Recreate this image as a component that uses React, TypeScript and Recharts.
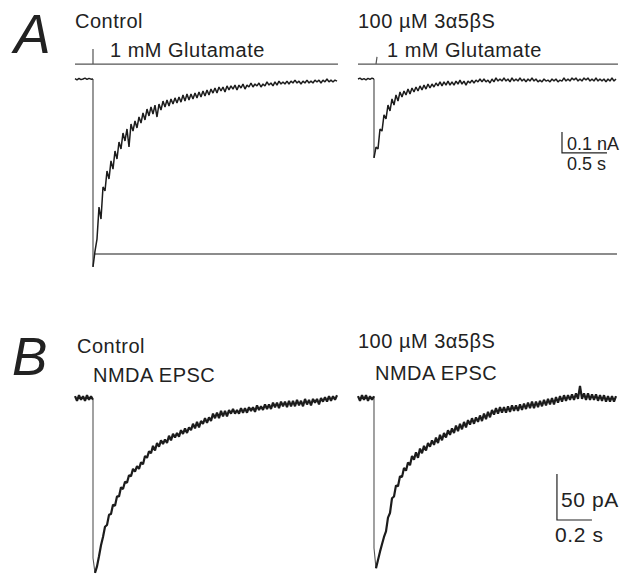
import React from 'react';
import { LineChart, Line, XAxis, YAxis } from 'recharts';

// ---------- Panel A: glutamate-evoked currents (pA), sample interval in s ----------
const dtA = 0.02222;
const startA = [0, 3.1444]; // control, 3a5bS trace start (s, figure time)
const ctrlA_base = [2, -4, 3, -3, 0, 4, -2, 3, -1, 0];
const ctrlA_resp = [
  -895, -820, -762, -610, -667, -514, -533, -438, -476, -390,
  -429, -343, -381, -300, -333, -257, -295, -238, -324, -214,
  -248, -200, -233, -181, -210, -162, -195, -143, -176, -133,
  -167, -124, -181, -119, -148, -105, -133, -100, -129, -95,
  -119, -90, -114, -86, -110, -76, -105, -71, -100, -71,
  -95, -67, -90, -62, -86, -57, -81, -52, -76, -48,
  -67, -43, -67, -38, -57, -38, -62, -33, -52, -33,
  -48, -29, -52, -29, -43, -24, -48, -29, -38, -19,
  -38, -24, -33, -19, -38, -24, -33, -14, -29, -19,
  -33, -14, -29, -10, -24, -14, -24, -10, -24, -10,
  -19, -5, -19, -10, -24, -10, -19, -5, -19, -10,
  -19, -5, -14, -5, -19, -5, -14, 0, -14, -5,
  -14, -5, -10,
];
const trtA_base = [0, 4, -3, 2, -4, 3, -2, 4, 0];
const trtA_resp = [
  -376, -324, -333, -238, -248, -171, -190, -124, -152, -95,
  -124, -76, -105, -62, -86, -57, -76, -48, -71, -43,
  -62, -38, -57, -33, -52, -29, -48, -24, -43, -24,
  -38, -19, -33, -14, -33, -14, -29, -10, -29, -14,
  -29, -10, -24, -5, -24, -10, -29, -10, -19, -5,
  -19, -5, -14, 0, -14, 0, -14, -5, -19, 0,
  -14, 5, -10, 0, -10, 5, -10, 0, -14, 5,
  -10, 0, -10, 5, -10, 0, -14, 0, -10, 5,
  -10, 0, -14, -5, -14, 0, -10, -5, -14, 0,
  -10, 0, -14, -5, -10, 5, -10, 0, -10, 5,
  -5, 5, -10, 0, -10, 5, -5, 5, -10, 0,
  -10, 5, -10, 0, -10, 0, -14, 0, -10, 5,
  -10, 0,
];
// glutamate application markers (t in s, level in pA-equivalent units)
const stimCtrlA_t = [0, 0.2, 0.2, 0.2, 2.922];
const stimCtrlA_v = [71, 71, 143, 71, 71];
const stimTrtA_t = [3.1444, 3.3444, 3.3556, 3.3444, 6.033];
const stimTrtA_v = [71, 71, 105, 71, 71];
// control peak reference level
const peakRefA_t = [0.222, 6.022];
const peakRefA_v = [-833, -833];
// scale bar: 0.1 nA, 0.5 s
const scaleA_t = [5.411, 5.411, 5.911];
const scaleA_v = [-252, -352, -352];

// ---------- Panel B: NMDA EPSCs (pA) ----------
const dtB = 0.011429;
const startB = [0, 1.6171];
const ctrlB_base = [2, -3, 3, -2, 2, -3, 3, -2, 2, -2];
const ctrlB_resp = [
  -174, -190, -183, -172, -160, -151, -140, -138, -127, -126,
  -116, -117, -107, -107, -97, -99, -91, -92, -84, -85,
  -77, -80, -74, -77, -70, -72, -63, -65, -58, -60,
  -52, -57, -49, -53, -46, -50, -45, -49, -41, -46,
  -39, -43, -38, -42, -35, -39, -33, -38, -32, -35,
  -28, -33, -26, -32, -25, -28, -22, -27, -21, -25,
  -17, -22, -16, -22, -14, -20, -14, -20, -13, -17,
  -12, -17, -13, -17, -11, -16, -11, -16, -10, -14,
  -10, -15, -8, -13, -9, -13, -7, -12, -7, -12,
  -5, -10, -5, -11, -4, -9, -4, -10, -3, -9,
  -3, -9, -2, -8, -3, -9, -1, -7, -2, -8,
  -1, -5, -1, -7, 0, -4, 1, -4, 2, -3,
  2, -2, 3,
];
const trtB_base = [2, -3, 3, -2, 3, -3, 2, -2, 2];
const trtB_resp = [
  -163, -185, -176, -167, -159, -151, -145, -130, -125, -109,
  -107, -95, -96, -85, -86, -76, -79, -70, -73, -63,
  -67, -59, -65, -55, -60, -52, -57, -49, -53, -46,
  -51, -43, -49, -40, -46, -38, -43, -35, -40, -33,
  -38, -30, -36, -28, -34, -26, -32, -24, -29, -22,
  -28, -21, -26, -19, -25, -17, -23, -15, -21, -13,
  -18, -11, -17, -10, -16, -10, -16, -9, -15, -8,
  -14, -8, -14, -7, -13, -6, -12, -5, -11, -4,
  -11, -4, -10, -3, -9, -2, -8, -1, -7, 0,
  -7, 1, -5, 2, -4, 3, -3, 3, -2, 4,
  -2, 5, -1, 13, -1, 5, -2, 5, -2, 4,
  -2, 4, -3, 3, -3, 3, -4, 2, -4, 2,
  -4, 2,
];
// scale bar: 50 pA, 0.2 s
const scaleB_t = [2.754, 2.754, 2.954];
const scaleB_v = [-82.6, -132.6, -132.6];

type Pt = { t: number; v: number };

// split each sweep into baseline, fast onset (drawn thin) and decay
function buildParts(start: number, dt: number, base: number[], resp: number[], onsetPts: number) {
  const baseline: Pt[] = base.map((v, i) => ({ t: start + i * dt, v }));
  const t0 = start + (base.length - 1) * dt;
  const response: Pt[] = resp.map((v, j) => ({ t: t0 + j * dt, v }));
  const onset: Pt[] = [baseline[baseline.length - 1], ...response.slice(0, onsetPts)];
  const decay: Pt[] = response.slice(onsetPts - 1);
  return { baseline, onset, decay };
}
function pairs(ts: number[], vs: number[]): Pt[] {
  return ts.map((t, i) => ({ t, v: vs[i] }));
}

const ctrlA = buildParts(startA[0], dtA, ctrlA_base, ctrlA_resp, 1);
const trtA = buildParts(startA[1], dtA, trtA_base, trtA_resp, 1);
const ctrlB = buildParts(startB[0], dtB, ctrlB_base, ctrlB_resp, 2);
const trtB = buildParts(startB[1], dtB, trtB_base, trtB_resp, 2);

const TRACE = '#1c1c1c';
const GREY = '#555';
const FONT = '"Liberation Sans", Arial, Helvetica, sans-serif';

const lineCommon = {
  dataKey: 'v',
  dot: false,
  activeDot: false,
  isAnimationActive: false,
  type: 'linear' as const,
};

export default function App() {
  return (
    <div style={{ position: 'absolute', left: 0, top: 0, width: 625, height: 574, background: '#fff', overflow: 'hidden' }}>
      <div style={{ position: 'absolute', left: 0, top: 0 }}>
        <LineChart width={625} height={290} margin={{ top: 0, right: 0, bottom: 0, left: 0 }}>
          <XAxis type="number" dataKey="t" domain={[-0.8333, 6.1111]} hide allowDataOverflow />
          <YAxis type="number" dataKey="v" domain={[-1004.76, 376.19]} hide allowDataOverflow />
          <Line {...lineCommon} data={pairs(peakRefA_t, peakRefA_v)} stroke="#666" strokeWidth={1.4} />
          <Line {...lineCommon} data={pairs(stimCtrlA_t, stimCtrlA_v)} stroke={GREY} strokeWidth={1.2} />
          <Line {...lineCommon} data={pairs(stimTrtA_t, stimTrtA_v)} stroke={GREY} strokeWidth={1.2} />
          <Line {...lineCommon} data={ctrlA.onset} stroke="#444" strokeWidth={1.1} />
          <Line {...lineCommon} data={trtA.onset} stroke="#444" strokeWidth={1.1} />
          <Line {...lineCommon} data={ctrlA.baseline} stroke={TRACE} strokeWidth={1.4} strokeLinejoin="bevel" />
          <Line {...lineCommon} data={trtA.baseline} stroke={TRACE} strokeWidth={1.4} strokeLinejoin="bevel" />
          <Line {...lineCommon} data={ctrlA.decay} stroke={TRACE} strokeWidth={1.5} strokeLinejoin="bevel" />
          <Line {...lineCommon} data={trtA.decay} stroke={TRACE} strokeWidth={1.5} strokeLinejoin="bevel" />
          <Line {...lineCommon} data={pairs(scaleA_t, scaleA_v)} stroke="#222" strokeWidth={1.2} />
        </LineChart>
      </div>
      <div style={{ position: 'absolute', left: 0, top: 300 }}>
        <LineChart width={625} height={274} margin={{ top: 0, right: 0, bottom: 0, left: 0 }}>
          <XAxis type="number" dataKey="t" domain={[-0.42857, 3.14286]} hide allowDataOverflow />
          <YAxis type="number" dataKey="v" domain={[-191.3, 106.52]} hide allowDataOverflow />
          <Line {...lineCommon} data={ctrlB.onset} stroke="#555" strokeWidth={1.1} />
          <Line {...lineCommon} data={trtB.onset} stroke="#555" strokeWidth={1.1} />
          <Line {...lineCommon} data={ctrlB.baseline} stroke={TRACE} strokeWidth={2.2} strokeLinejoin="bevel" />
          <Line {...lineCommon} data={trtB.baseline} stroke={TRACE} strokeWidth={2.2} strokeLinejoin="bevel" />
          <Line {...lineCommon} data={ctrlB.decay} stroke={TRACE} strokeWidth={2.2} strokeLinejoin="bevel" />
          <Line {...lineCommon} data={trtB.decay} stroke={TRACE} strokeWidth={2.2} strokeLinejoin="bevel" />
          <Line {...lineCommon} data={pairs(scaleB_t, scaleB_v)} stroke="#222" strokeWidth={1.2} />
        </LineChart>
      </div>
      <svg width={625} height={574} style={{ position: 'absolute', left: 0, top: 0, pointerEvents: 'none' }}>
        <g fontFamily={FONT} fill="#222">
          <text x={14} y={53} fontSize={55} fontStyle="italic">A</text>
          <text x={12} y={375} fontSize={53} fontStyle="italic">B</text>
          <g fontSize={20} letterSpacing={0.5}>
            <text x={75} y={28}>Control</text>
            <text x={110} y={57}>1 mM Glutamate</text>
            <text x={358} y={28}>100 µM 3α5βS</text>
            <text x={387} y={57}>1 mM Glutamate</text>
            <text x={77} y={353}>Control</text>
            <text x={93} y={382}>NMDA EPSC</text>
            <text x={358} y={348}>100 µM 3α5βS</text>
            <text x={375} y={380}>NMDA EPSC</text>
          </g>
          <g fontSize={18}>
            <text x={567} y={150}>0.1 nA</text>
            <text x={567} y={170}>0.5 s</text>
          </g>
          <g fontSize={21} letterSpacing={0.6}>
            <text x={561} y={507}>50 pA</text>
            <text x={555} y={542}>0.2 s</text>
          </g>
        </g>
      </svg>
    </div>
  );
}
